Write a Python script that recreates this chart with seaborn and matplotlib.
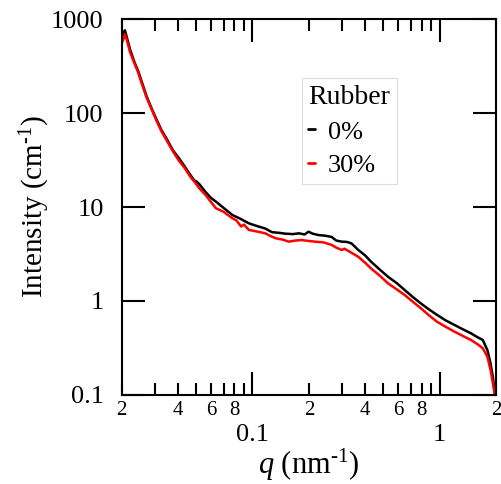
import numpy as np
import pandas as pd
import seaborn as sns
import matplotlib.pyplot as plt

# q (nm^-1) and intensity (cm^-1), 0% rubber
q_0 = [0.0200, 0.0205, 0.0208, 0.0213, 0.0222, 0.0235, 0.0245, 0.0255, 0.0272, 0.0290,
       0.0305, 0.0326, 0.0350, 0.0376, 0.0405, 0.0434, 0.0465, 0.0490, 0.0500, 0.0520,
       0.0560, 0.0600, 0.0638, 0.0700, 0.0782, 0.0850, 0.0957, 0.105, 0.117, 0.127,
       0.140, 0.150, 0.165, 0.177, 0.190, 0.199, 0.210, 0.225, 0.245, 0.265,
       0.280, 0.300, 0.320, 0.338, 0.367, 0.40, 0.43, 0.48, 0.53, 0.59,
       0.65, 0.72, 0.795, 0.88, 0.97, 1.08, 1.20, 1.33, 1.47, 1.60,
       1.70, 1.80, 1.87, 1.93, 1.97]
i_0 = [620, 700, 760, 640, 470, 340, 280, 220, 150, 110,
       88, 66, 52, 40, 33, 27, 22, 19, 18.8, 17.5,
       14.5, 12.5, 11.4, 9.8, 8.2, 7.6, 6.7, 6.3, 5.9, 5.4,
       5.3, 5.2, 5.15, 5.25, 5.1, 5.46, 5.2, 5.03, 4.95, 4.8,
       4.4, 4.28, 4.25, 4.1, 3.5, 3.05, 2.62, 2.15, 1.81, 1.55,
       1.31, 1.1, 0.94, 0.81, 0.71, 0.62, 0.556, 0.50, 0.453, 0.41,
       0.385, 0.30, 0.217, 0.15, 0.105]

# 30% rubber
q_30 = [0.0200, 0.0205, 0.0208, 0.0213, 0.0222, 0.0235, 0.0245, 0.0255, 0.0272, 0.0290,
        0.0305, 0.0326, 0.0350, 0.0376, 0.0405, 0.0434, 0.0465, 0.0490, 0.0520, 0.0560,
        0.0600, 0.0638, 0.0700, 0.0780, 0.0820, 0.0870, 0.0900, 0.0957, 0.105, 0.117,
        0.125, 0.133, 0.145, 0.156, 0.170, 0.183, 0.200, 0.216, 0.240, 0.265,
        0.280, 0.300, 0.310, 0.330, 0.367, 0.40, 0.43, 0.48, 0.53, 0.59,
        0.65, 0.72, 0.795, 0.88, 0.97, 1.08, 1.20, 1.33, 1.47, 1.60,
        1.70, 1.80, 1.87, 1.93, 1.97]
i_30 = [550, 620, 690, 600, 440, 330, 270, 210, 145, 108,
        85, 64, 50, 39, 31, 26, 21, 18.5, 15.8, 13.5,
        11.3, 9.7, 8.9, 7.6, 7.2, 6.2, 6.5, 5.7, 5.5, 5.25,
        4.9, 4.65, 4.5, 4.28, 4.4, 4.45, 4.35, 4.28, 4.2, 3.95,
        3.7, 3.49, 3.6, 3.35, 2.96, 2.55, 2.22, 1.85, 1.54, 1.33,
        1.16, 0.98, 0.835, 0.70, 0.60, 0.53, 0.472, 0.425, 0.385, 0.345,
        0.314, 0.255, 0.185, 0.13, 0.10]

groups = ['0%', '30%']
colors = ['black', 'red']

x_major = [0.1, 1]
x_major_labels = ['0.1', '1']
x_minor = [0.02, 0.03, 0.04, 0.05, 0.06, 0.07, 0.08, 0.09,
           0.2, 0.3, 0.4, 0.5, 0.6, 0.7, 0.8, 0.9, 2]
x_minor_labels = ['2', '', '4', '', '6', '', '8', '',
                  '2', '', '4', '', '6', '', '8', '', '2']
y_ticks = [0.1, 1, 10, 100, 1000]
y_labels = ['0.1', '1', '10', '100', '1000']

df = pd.concat([
    pd.DataFrame({'q': q_0, 'I': i_0, 'Rubber': groups[0]}),
    pd.DataFrame({'q': q_30, 'I': i_30, 'Rubber': groups[1]}),
])

sns.set_style('ticks')
plt.rcParams['font.family'] = ['Liberation Serif', 'DejaVu Serif']
plt.rcParams['mathtext.fontset'] = 'custom'
plt.rcParams['mathtext.rm'] = 'Liberation Serif'
plt.rcParams['mathtext.it'] = 'Liberation Serif:italic'
plt.rcParams['text.color'] = 'black'
plt.rcParams['axes.labelcolor'] = 'black'
plt.rcParams['xtick.color'] = 'black'
plt.rcParams['ytick.color'] = 'black'

fig = plt.figure(figsize=(5.02, 4.84), dpi=100)
ax = fig.add_axes([0.2424, 0.1839, 0.7456, 0.7768])

sns.lineplot(data=df, x='q', y='I', hue='Rubber', hue_order=groups,
             palette=dict(zip(groups, colors)), estimator=None, sort=False,
             linewidth=1.8, ax=ax)

ax.set_xscale('log')
ax.set_yscale('log')
ax.set_xlim(0.02, 2)
ax.set_ylim(0.1, 1000)

ax.set_xticks(x_major, x_major_labels)
ax.set_xticks(x_minor, x_minor_labels, minor=True)
ax.set_yticks(y_ticks, y_labels)
ax.yaxis.set_minor_locator(plt.NullLocator())

ax.tick_params(axis='both', which='both', direction='in', top=True, right=True,
               color='black', labelcolor='black', width=1.5)
ax.tick_params(axis='both', which='major', length=16.5)
ax.tick_params(axis='x', which='minor', length=8.5, labelsize=15, pad=4)
ax.tick_params(axis='x', which='major', labelsize=19, pad=21)
ax.tick_params(axis='y', which='major', labelsize=19, pad=13)
for s in ax.spines.values():
    s.set_linewidth(1.5)
    s.set_color('black')

ax.set_xlabel(r'$q$ (nm$^{\text{-1}}$)', fontsize=22, va='center', color='black')
ax.xaxis.set_label_coords(0.5, -0.186)
ax.set_ylabel(r'Intensity (cm$^{\text{-1}}$)', fontsize=21, va='center', color='black')
ax.yaxis.set_label_coords(-0.2316, 0.5)

leg = ax.legend(title='Rubber', loc='upper left', bbox_to_anchor=(0.601, 0.838),
                bbox_transform=fig.transFigure, fontsize=19, title_fontsize=20,
                handlelength=0.25, handletextpad=0.5, borderpad=0.25, labelspacing=0.38,
                frameon=True, fancybox=False, framealpha=1, borderaxespad=0)
leg.get_frame().set_edgecolor('#dddddd')
leg.get_frame().set_linewidth(0.8)
leg._legend_box.align = 'left'
for t in leg.get_texts():
    t.set_color('black')
leg.get_title().set_color('black')
for h in leg.get_lines():
    h.set_linewidth(2)

fig.savefig('out.png', dpi=100)
